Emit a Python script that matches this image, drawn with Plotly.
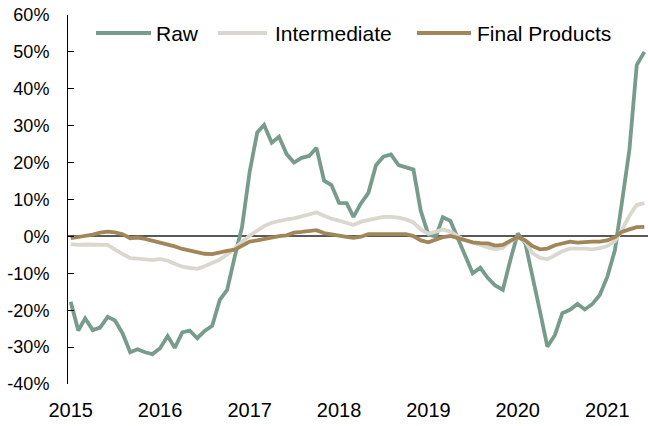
import pandas as pd
import plotly.graph_objects as go

months = pd.date_range("2015-01-01", periods=78, freq="MS")

raw = [-17.7, -25.5, -22.2, -25.4, -24.7, -21.8, -22.8, -26.3, -31.4, -30.6,
       -31.4, -31.9, -30.3, -27.0, -30.2, -26.0, -25.5, -27.6, -25.6, -24.2,
       -17.2, -14.5, -5.5, 2.6, 17.5, 28.2, 30.2, 25.4, 27.0, 22.3,
       20.0, 21.3, 21.8, 24.0, 15.1, 13.9, 9.1, 9.0, 5.3, 9.0,
       11.8, 19.3, 21.6, 22.2, 19.3, 18.7, 18.1, 6.9, 0.5, 0.0,
       5.2, 4.2, -0.4, -5.7, -10.0, -8.5, -11.3, -13.3, -14.5, -6.6,
       0.8, -1.9, -11.4, -20.4, -29.9, -26.7, -20.8, -19.9, -18.3, -19.8,
       -18.3, -15.9, -10.9, -3.7, 9.0, 23.4, 46.4, 50.0]

intermediate = [-2.1, -2.3, -2.2, -2.2, -2.3, -2.3, -3.6, -4.8, -5.9, -6.0,
                -6.2, -6.4, -6.1, -6.6, -7.4, -8.2, -8.5, -8.8, -8.1, -7.3,
                -6.3, -4.9, -3.3, -1.5, 0.2, 1.6, 2.8, 3.7, 4.2, 4.6,
                4.9, 5.4, 6.0, 6.5, 5.6, 4.8, 4.3, 3.7, 3.1, 4.0,
                4.5, 4.9, 5.3, 5.3, 5.1, 4.6, 3.8, 1.9, 0.7, 1.3,
                1.9, 1.3, 0.0, -1.0, -1.7, -2.4, -3.0, -3.5, -3.1, -1.4,
                -0.2, -1.4, -4.5, -5.8, -6.2, -5.1, -4.0, -3.3, -3.2, -3.3,
                -3.5, -3.2, -2.6, -1.3, 1.7, 5.6, 8.5, 9.0]

final_products = [-0.5, -0.2, 0.1, 0.5, 1.0, 1.3, 1.1, 0.6, -0.5, -0.3,
                  -0.7, -1.2, -1.6, -2.1, -2.7, -3.4, -3.9, -4.4, -4.7, -4.8,
                  -4.3, -3.9, -3.6, -2.6, -1.4, -1.1, -0.7, -0.1, 0.1, 0.3,
                  1.0, 1.2, 1.4, 1.7, 0.9, 0.5, 0.2, -0.1, -0.4, -0.1,
                  0.6, 0.6, 0.6, 0.6, 0.5, 0.6, 0.1, -1.1, -1.6, -0.8,
                  -0.2, 0.1, -0.5, -1.2, -1.6, -1.8, -1.9, -2.5, -2.3, -1.2,
                  -0.2, -1.1, -2.6, -3.5, -3.3, -2.4, -1.8, -1.4, -1.7, -1.5,
                  -1.4, -1.4, -1.1, -0.2, 1.2, 1.9, 2.5, 2.6]

series_names = ["Raw", "Intermediate", "Final Products"]
series_values = [raw, intermediate, final_products]
series_colors = ["#779C8C", "#DAD7CF", "#A08658"]

y_tickvals = [-40, -30, -20, -10, 0, 10, 20, 30, 40, 50, 60]
y_ticktext = [f"{v}%" for v in y_tickvals]

W, H = 648, 426
L, R, T, B = 68, 0, 15, 42
FONT = "Liberation Sans, Arial, sans-serif"

fig = go.Figure()
for name, vals, col in zip(series_names, series_values, series_colors):
    fig.add_trace(go.Scatter(x=months, y=vals, mode="lines", name=name,
                             line=dict(color=col, width=3.8),
                             showlegend=False))

# custom legend (long line samples like the original)
pw, ph = W - L - R, H - T - B
def px_x(p):
    return (p - L) / pw
def px_y(p):
    return (H - B - p) / ph

legend_items = [(96, 151, 154), (218, 267, 273), (417, 471, 475)]
legend_y = 33
for (x0, x1, tx), name, col in zip(legend_items, series_names, series_colors):
    fig.add_shape(type="line", xref="paper", yref="paper",
                  x0=px_x(x0), x1=px_x(x1), y0=px_y(legend_y), y1=px_y(legend_y),
                  line=dict(color=col, width=3.8))
    fig.add_annotation(xref="paper", yref="paper", x=px_x(tx), y=px_y(legend_y),
                       text=name, showarrow=False, xanchor="left", yanchor="middle",
                       font=dict(family=FONT, size=21, color="#000000"))

fig.update_layout(
    width=W, height=H,
    margin=dict(l=L, r=R, t=T, b=B, autoexpand=False),
    paper_bgcolor="white", plot_bgcolor="white",
    font=dict(family=FONT, color="#000000"),
    showlegend=False,
)
fig.update_xaxes(
    type="date",
    range=["2014-12-21", "2021-06-16"],
    tickformat="%Y", dtick="M12", tick0="2015-01-01",
    showgrid=False, showline=False, zeroline=False, ticks="",
    tickfont=dict(family=FONT, size=20, color="#000000"),
    ticklabelstandoff=12, automargin=False,
)
fig.update_yaxes(
    range=[-40, 60],
    tickvals=y_tickvals, ticktext=y_ticktext,
    showgrid=False,
    showline=True, linecolor="#000000", linewidth=1,
    ticks="inside", ticklen=6, tickcolor="#000000", tickwidth=1,
    zeroline=True, zerolinecolor="#595959", zerolinewidth=1.5,
    tickfont=dict(family=FONT, size=18, color="#000000"),
    ticklabelstandoff=14, automargin=False,
)

fig.write_html("out.html", config={"displayModeBar": False},
               post_script="document.body.style.margin='0';")
